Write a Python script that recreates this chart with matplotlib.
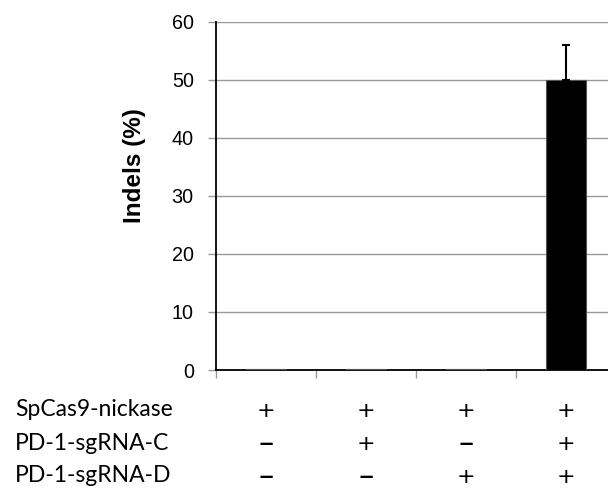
import matplotlib
matplotlib.use("Agg")
import matplotlib.pyplot as plt
import matplotlib.transforms as mtransforms

# Data
conditions = ["1", "2", "3", "4"]
indels = [0.15, 0.2, 0.2, 50.0]
indels_err = [0.0, 0.0, 0.0, 6.0]
row_labels = ["SpCas9-nickase", "PD-1-sgRNA-C", "PD-1-sgRNA-D"]
row_marks = [
    ["+", "+", "+", "+"],
    ["\u2013", "+", "\u2013", "+"],
    ["\u2013", "\u2013", "+", "+"],
]
y_ticks = [0, 10, 20, 30, 40, 50, 60]

W, H = 608, 491
fig = plt.figure(figsize=(W / 100, H / 100), dpi=100)
left_px, right_px, top_px, bottom_px = 216, 616, 21.7, 370
ax = fig.add_axes([left_px / W, 1 - bottom_px / H,
                   (right_px - left_px) / W, (bottom_px - top_px) / H])

x = [i + 0.5 for i in range(len(conditions))]
ax.bar(x, indels, width=0.4, color="black", edgecolor="#555555",
       linewidth=0.8, zorder=6)
for xi, v, e in zip(x, indels, indels_err):
    if e > 0:
        ax.errorbar([xi], [v], yerr=[[0], [e]], fmt="none", ecolor="black",
                    elinewidth=1.5, capsize=3, capthick=1.5, zorder=7)

ax.set_xlim(0, 4)
ax.set_ylim(0, 60)
ax.set_yticks(y_ticks)
ax.set_yticklabels([str(t) for t in y_ticks], fontfamily="Liberation Sans",
                   fontsize=14.2)
ax.set_xticks([0, 1, 2, 3])
ax.set_xticklabels([])
ax.yaxis.grid(True, color="#999999", linewidth=1.0, zorder=0)
ax.set_axisbelow(True)
ax.tick_params(axis="y", length=6, color="#999999", width=1.0, pad=10)
ax.tick_params(axis="x", length=6, color="#999999", width=1.0, direction="out")
for s in ["top", "right"]:
    ax.spines[s].set_visible(False)
ax.spines["left"].set_color("black")
ax.spines["left"].set_linewidth(1.3)
ax.spines["bottom"].set_color("black")
ax.spines["bottom"].set_linewidth(1.3)
ax.spines["bottom"].set_zorder(5)

ax.set_ylabel("Indels (%)", fontfamily="Liberation Sans", fontsize=17.5,
              fontweight="bold")
ax.yaxis.set_label_coords((146 - left_px) / (right_px - left_px),
                          (bottom_px - 166) / (bottom_px - top_px))

row_y_px = [410, 443, 476]
trans = mtransforms.blended_transform_factory(ax.transData, fig.transFigure)
for ry, lab, marks in zip(row_y_px, row_labels, row_marks):
    fy = 1 - ry / H
    fig.text(15 / W, fy, lab, fontfamily="Lato", fontsize=16.5,
             ha="left", va="center")
    for xi, m in zip(x, marks):
        if m == "\u2013":
            size, off = 22, 9
        else:
            size, off = 16, 7
        ax.text(xi, 1 - (ry + off) / H, m, transform=trans,
                fontfamily=["DejaVu Sans"], fontsize=size, ha="center",
                va="baseline", clip_on=False)

fig.savefig("out.png", dpi=100)
